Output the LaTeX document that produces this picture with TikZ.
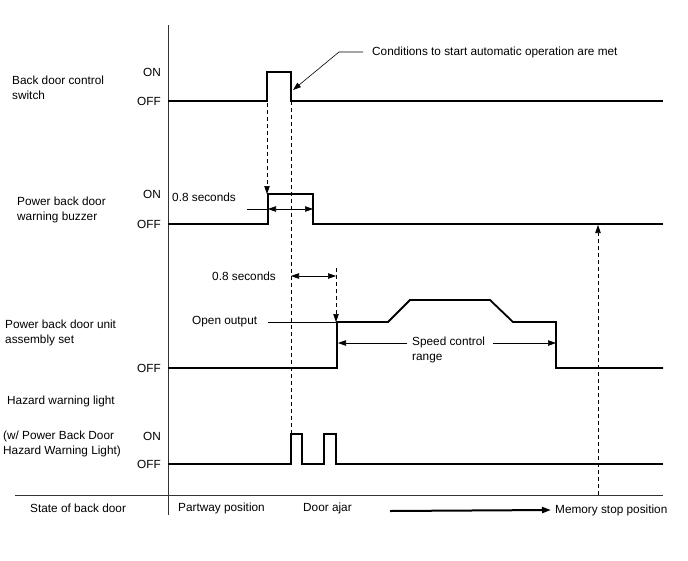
\documentclass[tikz,border=0pt]{standalone}
\usepackage{fontspec}
\setmainfont{Liberation Sans}
\usetikzlibrary{arrows.meta}
\begin{document}
\begin{tikzpicture}[x=1pt,y=-1pt,
  sig/.style={line width=1.8pt, line join=miter},
  axisline/.style={line width=0.9pt, draw=black!80},
  dashln/.style={dash pattern=on 4pt off 3pt, line width=0.6pt},
  thinln/.style={line width=0.6pt},
  lbl/.style={font=\fontsize{11.8}{15}\selectfont, inner sep=0pt, align=left},
  tri/.style={-{Triangle[length=8pt,width=5.5pt]}},
  tritwo/.style={{Triangle[length=8pt,width=5.5pt]}-{Triangle[length=8pt,width=5.5pt]}}]
\useasboundingbox (0,0) rectangle (688,560);

% axes
\coordinate (axtop) at (168,25);
\coordinate (axbot) at (168,515);
\coordinate (blL) at (15,495);
\coordinate (blR) at (663,495);
\draw[axisline] (axtop) -- (axbot);
\draw[axisline] (blL) -- (blR);

% left labels
\node[lbl, anchor=west] (l1) at (12,88) {Back door control\\switch};
\node[lbl, anchor=west] (l2) at (17,210) {Power back door\\warning buzzer};
\node[lbl, anchor=west] (l3) at (5,333) {Power back door unit\\assembly set};
\node[lbl, anchor=west] (l4) at (7,401) {Hazard warning light};
\node[lbl, anchor=west] (l5) at (3,444) {(w/ Power Back Door\\Hazard Warning Light)};

% ON / OFF
\node[lbl, anchor=east] (on1) at (161,72) {ON};
\node[lbl, anchor=east] (off1) at (161,101) {OFF};
\node[lbl, anchor=east] (on2) at (161,194) {ON};
\node[lbl, anchor=east] (off2) at (161,224) {OFF};
\node[lbl, anchor=east] (off3) at (161,368) {OFF};
\node[lbl, anchor=east] (on4) at (161,436) {ON};
\node[lbl, anchor=east] (off4) at (161,464) {OFF};

% signals
\draw[sig] (168,101) -- (267,101) -- (267,72) -- (291,72) -- (291,101) -- (663,101);
\draw[sig] (168,224) -- (268,224) -- (268,194) -- (313,194) -- (313,224) -- (663,224);
\draw[sig] (168,368) -- (337,368) -- (337,322) -- (388,322) -- (410,300) -- (490,300)
  -- (513,322) -- (556,322) -- (556,368) -- (663,368);
\draw[sig] (168,464) -- (291,464) -- (291,434) -- (302,434) -- (302,464) -- (324,464)
  -- (324,434) -- (336,434) -- (336,464) -- (663,464);

% dashed guides
\coordinate (d1a) at (267,103);
\coordinate (d1b) at (267,194);
\coordinate (d2a) at (291,101);
\coordinate (d2b) at (291,434);
\coordinate (d3a) at (336,268);
\coordinate (d3b) at (336,322);
\coordinate (d4a) at (598,495);
\coordinate (d4b) at (598,225);
\draw[dashln, tri] (d1a) -- (d1b);
\draw[dashln] (d2a) -- (d2b);
\draw[dashln, tri] (d3a) -- (d3b);
\draw[dashln, tri] (d4a) -- (d4b);

% annotation
\node[lbl, anchor=west] (cond) at (372,52) {Conditions to start automatic operation are met};
\coordinate (cbend) at (339,52);
\coordinate (ctip) at (293,90);
\draw[thinln, tri] (cond.west) ++(-9,0) -- (cbend) -- (ctip);

% 0.8 seconds (buzzer)
\node[lbl, anchor=west] (sec1) at (172,197) {0.8 seconds};
\coordinate (m1a) at (247,209);
\coordinate (m1b) at (268,209);
\coordinate (m1c) at (313,209);
\draw[thinln] (m1a) -- (m1b);
\draw[thinln, tritwo] (m1b) -- (m1c);

% 0.8 seconds (unit)
\node[lbl, anchor=west] (sec2) at (212,276) {0.8 seconds};
\coordinate (m2a) at (291,276);
\coordinate (m2b) at (336,276);
\draw[thinln, tritwo] (m2a) -- (m2b);

% open output
\node[lbl, anchor=west] (open) at (192,322) {Open output};
\coordinate (opend) at (337,322);
\draw[thinln] (268,322) -- (opend);

% speed control range
\node[lbl, anchor=west] (speed) at (412,350) {Speed control\\range};
\coordinate (spL) at (338,343);
\coordinate (spR) at (556,343);
\draw[thinln, tri] (407,343) -- (spL);
\draw[thinln, tri] (493,343) -- (spR);

% bottom row
\node[lbl, anchor=west] (state) at (30,508) {State of back door};
\node[lbl, anchor=west] (part) at (178,508) {Partway position};
\node[lbl, anchor=west] (ajar) at (303,508) {Door ajar};
\node[lbl, anchor=west] (mem) at (555,510) {Memory stop position};
\coordinate (arrA) at (390,511);
\draw[line width=2pt, -{Triangle[length=9pt,width=6pt]}] (arrA) -- ([xshift=-4pt]mem.west);
\end{tikzpicture}
\end{document}
